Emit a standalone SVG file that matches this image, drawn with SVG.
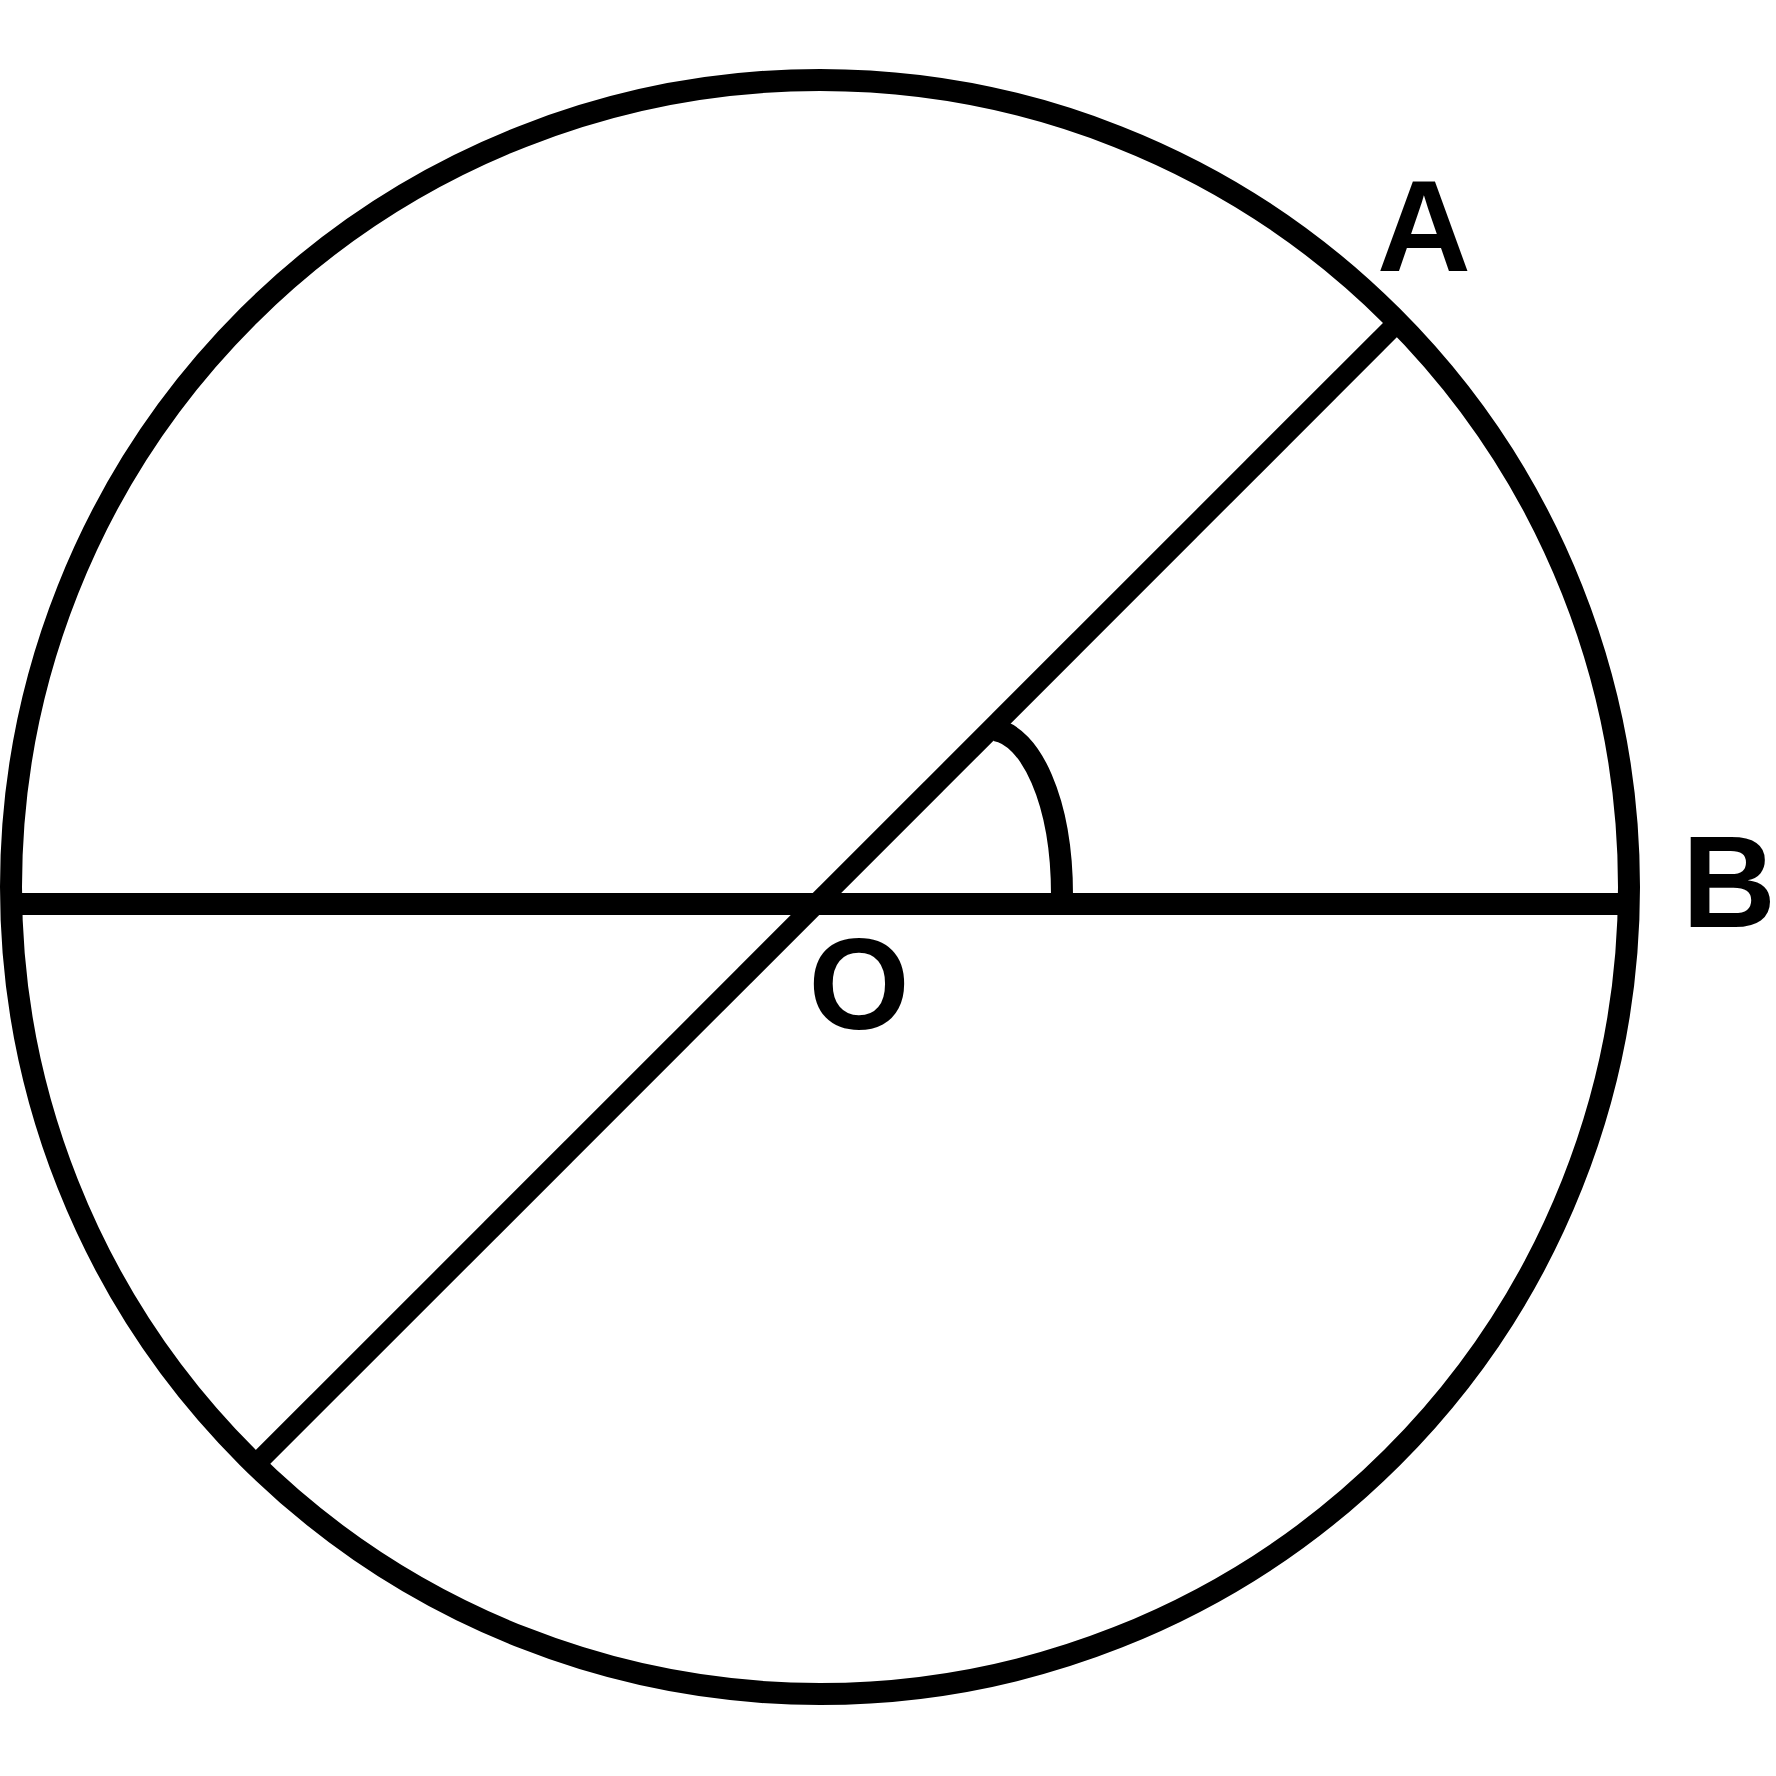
<svg xmlns="http://www.w3.org/2000/svg" width="1776" height="1776" viewBox="0 0 1776 1776">
<style>
.s{fill:none;stroke:#000;stroke-width:22}
.t{font-family:"Liberation Sans",Arial,sans-serif;font-weight:bold;font-size:130px;fill:#000;text-anchor:middle}
</style>
<rect width="1776" height="1776" fill="#fff"/>
<g id="circle"><ellipse class="s" cx="820" cy="887" rx="809" ry="807"/></g>
<g id="connectors">
<line class="s" x1="12" y1="904" x2="1629" y2="904"/>
<line class="s" style="stroke-width:20" x1="1394" y1="326" x2="257" y2="1463"/>
<path class="s" d="M995 730 C1030 735 1062 800 1062 895"/>
</g>
<g id="labelA"><text class="t" x="1424" y="271">A</text></g>
<g id="labelB"><text class="t" x="1729" y="927">B</text></g>
<g id="labelO"><text class="t" x="859" y="1029">O</text></g>
</svg>
